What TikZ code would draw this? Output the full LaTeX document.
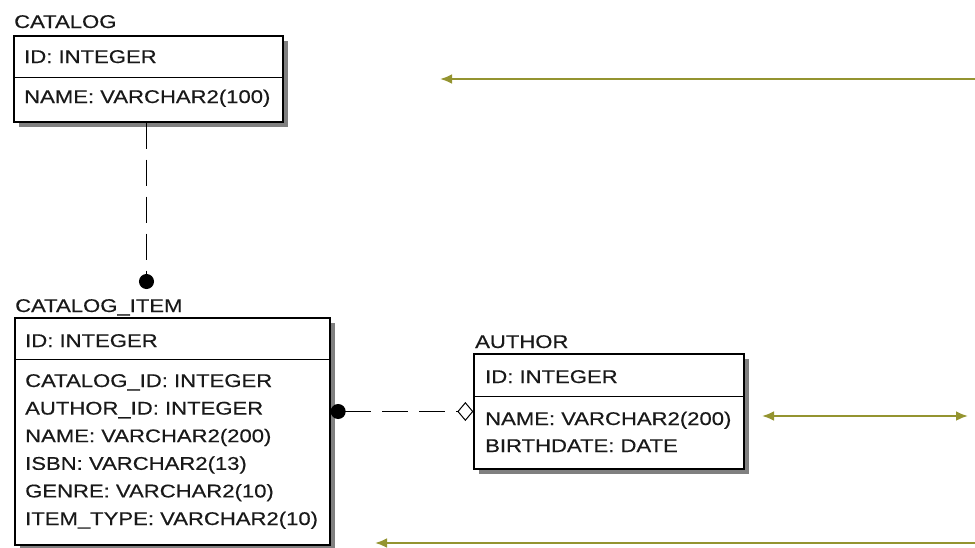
\documentclass[tikz,border=0pt]{standalone}
\usepackage{fontspec}
\setmainfont[FakeStretch=1.2, FakeBold=0.4]{Liberation Sans}
\usetikzlibrary{arrows.meta, positioning, shadows}

\definecolor{linkolive}{RGB}{148,148,48}

\begin{document}
\begin{tikzpicture}[x=1pt, y=-1pt, >=Stealth,
    entity/.style={draw, line width=1.3pt, fill=white, inner sep=0pt,
        drop shadow={shadow xshift=5pt, shadow yshift=-5pt, fill=black!50, opacity=1}},
    fieldtext/.style={anchor=base west, inner sep=0pt, text=black!90,
        font=\fontsize{18.4}{20}\selectfont},
    divider/.style={line width=1pt},
    relline/.style={line width=1.3pt, dash pattern=on 26pt off 11pt},
    olivearrow/.style={draw=linkolive, line width=2.5pt, -{Latex[length=12pt, width=10pt]}}]

    \useasboundingbox (0,0) rectangle (975,547);

    % Define variables
    \def\Fieldgap{27.6}

    % CATALOG table
    \node[entity, minimum width=269pt, minimum height=86pt] (catalog) at (148.5,79) {};
    \draw[divider] (catalog.west |- 0,77) -- (catalog.east |- 0,77);
    \node[fieldtext] (catalogtitle) at (14,28) {CATALOG};
    \node[fieldtext] (catalogid) at (24,63) {ID: INTEGER};
    \node[fieldtext] (catalogname) at (24,103) {NAME: VARCHAR2(100)};

    % CATALOG_ITEM table
    \node[entity, minimum width=315pt, minimum height=227pt] (item) at (172.5,431.5) {};
    \draw[divider] (item.west |- 0,359) -- (item.east |- 0,359);
    \node[fieldtext] (itemtitle) at (15,312) {CATALOG\_ITEM};
    \node[fieldtext] (itemid) at (25,347) {ID: INTEGER};
    \foreach \field [count=\i from 0] in {CATALOG\_ID: INTEGER, AUTHOR\_ID: INTEGER,
        NAME: VARCHAR2(200), ISBN: VARCHAR2(13), GENRE: VARCHAR2(10), ITEM\_TYPE: VARCHAR2(10)}
        \node[fieldtext] (itemfield\i) at (25,387+\i*\Fieldgap) {\field};

    % AUTHOR table
    \node[entity, minimum width=270pt, minimum height=115pt] (author) at (609,411.5) {};
    \draw[divider] (author.west |- 0,396) -- (author.east |- 0,396);
    \node[fieldtext] (authortitle) at (475,348) {AUTHOR};
    \node[fieldtext] (authorid) at (485,383) {ID: INTEGER};
    \node[fieldtext] (authorname) at (485,425) {NAME: VARCHAR2(200)};
    \node[fieldtext] (authorbirth) at (485,452) {BIRTHDATE: DATE};

    % Relationships
    \coordinate (itemtop) at (146.5,289);
    \draw[relline, -{Circle[length=15pt]}] ([xshift=-2pt]catalog.south) -- (itemtop);
    \draw[relline, {Circle[length=15pt]}-{Diamond[open, fill=white, length=16pt, width=19pt, line width=1pt]}]
        (item.east |- author.west) -- (author.west);

    % Olive arrows
    \coordinate (topstart) at (976,79);
    \coordinate (topend) at (440,79);
    \coordinate (midleft) at (762,416);
    \coordinate (midright) at (968,416);
    \coordinate (lowstart) at (976,543);
    \coordinate (lowend) at (375,543);
    \draw[olivearrow] (topstart) -- (topend);
    \draw[olivearrow, {Latex[length=12pt, width=10pt]}-{Latex[length=12pt, width=10pt]}] (midleft) -- (midright);
    \draw[olivearrow] (lowstart) -- (lowend);

\end{tikzpicture}
\end{document}
